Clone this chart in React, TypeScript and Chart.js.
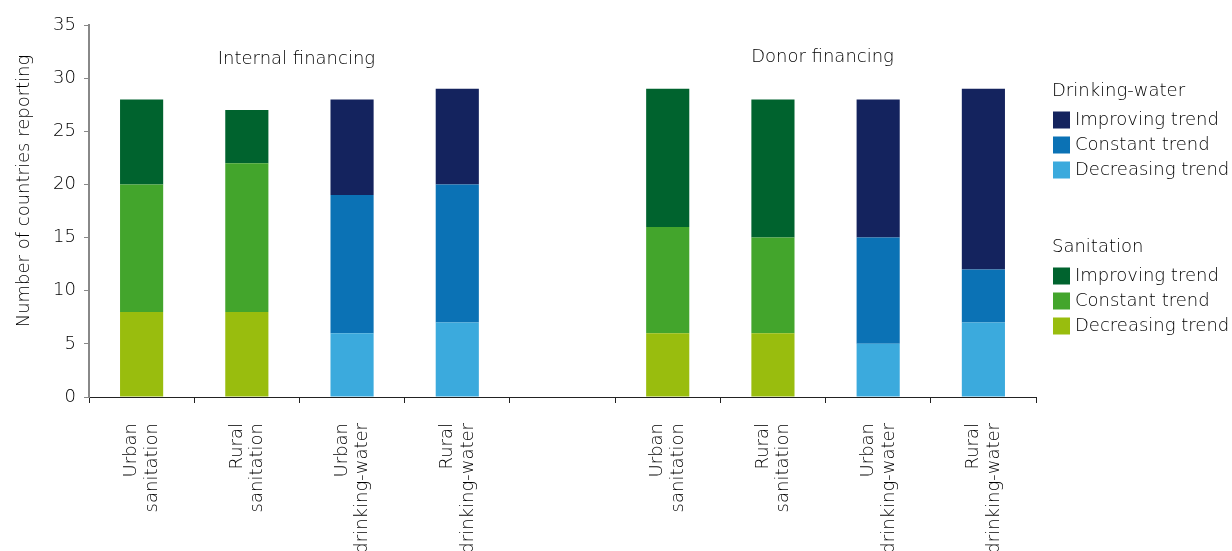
import React, { useEffect, useRef } from "react";
import { Chart, registerables } from "chart.js";

Chart.register(...registerables);

const categories: (string | string[])[] = [
  ["Urban", "sanitation"],
  ["Rural", "sanitation"],
  ["Urban", "drinking-water"],
  ["Rural", "drinking-water"],
  "",
  ["Urban", "sanitation"],
  ["Rural", "sanitation"],
  ["Urban", "drinking-water"],
  ["Rural", "drinking-water"],
];

const sanDecreasing = [8, 8, null, null, null, 6, 6, null, null];
const sanConstant = [12, 14, null, null, null, 10, 9, null, null];
const sanImproving = [8, 5, null, null, null, 13, 13, null, null];
const dwDecreasing = [null, null, 6, 7, null, null, null, 5, 7];
const dwConstant = [null, null, 13, 13, null, null, null, 10, 5];
const dwImproving = [null, null, 9, 9, null, null, null, 13, 17];

const yMin = 0;
const yMax = 35;
const yStep = 5;

const groupLabels = ["Internal financing", "Donor financing"];
const groupCenters = [1.5, 6.5];
const yAxisTitle = "Number of countries reporting";

const colors = {
  sanDecreasing: "#99BD0E",
  sanConstant: "#43A52C",
  sanImproving: "#00632E",
  dwDecreasing: "#3BAADD",
  dwConstant: "#0B72B5",
  dwImproving: "#14235E",
};

const legendGroups = [
  {
    title: "Drinking-water",
    items: [
      ["Improving trend", colors.dwImproving],
      ["Constant trend", colors.dwConstant],
      ["Decreasing trend", colors.dwDecreasing],
    ],
  },
  {
    title: "Sanitation",
    items: [
      ["Improving trend", colors.sanImproving],
      ["Constant trend", colors.sanConstant],
      ["Decreasing trend", colors.sanDecreasing],
    ],
  },
];

const FONT = "'DejaVu Sans', sans-serif";
const WEIGHT = 200;
const TEXT = "#000000";

const annotationsPlugin = {
  id: "customAnnotations",
  afterDraw(chart: any) {
    const { ctx, chartArea, scales } = chart;
    ctx.save();
    ctx.fillStyle = TEXT;
    ctx.font = `${WEIGHT} 18px ${FONT}`;
    ctx.textBaseline = "middle";
    ctx.textAlign = "center";
    groupLabels.forEach((g, i) => {
      const x = scales.x.getPixelForValue(groupCenters[i]) - 3;
      const y = scales.y.getPixelForValue(31.8) - i * 2;
      ctx.fillText(g, x, y);
    });

    // y axis title
    ctx.save();
    ctx.translate(24, chartArea.top + 166);
    ctx.rotate(-Math.PI / 2);
    ctx.textAlign = "center";
    ctx.fillText(yAxisTitle, 0, 0);
    ctx.restore();

    // legend
    const lx = chartArea.right + 16;
    let y = chartArea.top + 66;
    legendGroups.forEach((grp) => {
      ctx.textAlign = "left";
      ctx.fillStyle = TEXT;
      ctx.fillText(grp.title, lx, y);
      y += 29;
      grp.items.forEach(([label, color]) => {
        ctx.fillStyle = color as string;
        ctx.fillRect(lx + 1, y - 8.5, 17, 17);
        ctx.fillStyle = TEXT;
        ctx.fillText(label as string, lx + 23, y);
        y += 25;
      });
      y += 52;
    });
    ctx.restore();
  },
};

export default function App() {
  const ref = useRef<HTMLCanvasElement | null>(null);
  useEffect(() => {
    if (!ref.current) return;
    const mk = (data: (number | null)[], color: string) => ({
      data,
      backgroundColor: color,
      borderWidth: 0,
      stack: "s",
      categoryPercentage: 1,
      barPercentage: 0.41,
    });
    const chart = new Chart(ref.current, {
      type: "bar",
      data: {
        labels: categories as any,
        datasets: [
          mk(sanDecreasing, colors.sanDecreasing),
          mk(sanConstant, colors.sanConstant),
          mk(sanImproving, colors.sanImproving),
          mk(dwDecreasing, colors.dwDecreasing),
          mk(dwConstant, colors.dwConstant),
          mk(dwImproving, colors.dwImproving),
        ] as any,
      },
      options: {
        responsive: false,
        animation: false,
        layout: { padding: { top: 25, right: 196, left: 0, bottom: 0 } },
        plugins: {
          legend: { display: false },
          tooltip: { enabled: false },
          title: { display: false },
        },
        scales: {
          x: {
            stacked: true,
            grid: {
              offset: true,
              drawOnChartArea: false,
              drawTicks: true,
              tickLength: 6,
              color: "#222",
            },
            border: { color: "#222", width: 1 },
            ticks: {
              autoSkip: false,
              maxRotation: 90,
              minRotation: 90,
              padding: 20,
              labelOffset: -10,
              color: TEXT,
              font: { family: FONT, size: 18, weight: WEIGHT, lineHeight: 1.15 },
            },
            afterFit: (s: any) => {
              s.height = 154;
            },
          },
          y: {
            stacked: true,
            min: yMin,
            max: yMax,
            ticks: {
              stepSize: yStep,
              padding: 8,
              color: TEXT,
              font: { family: FONT, size: 18, weight: WEIGHT },
            },
            grid: {
              drawOnChartArea: false,
              drawTicks: true,
              tickLength: 5,
              color: "#888",
            },
            border: { color: "#888", width: 2 },
            afterFit: (s: any) => {
              s.width = 89;
            },
          },
        },
      } as any,
      plugins: [annotationsPlugin],
    });
    return () => chart.destroy();
  }, []);
  return (
    <div style={{ position: "absolute", left: 0, top: 0, width: 1232, height: 551, background: "#fff" }}>
      <canvas ref={ref} width={1232} height={551} style={{ display: "block" }} />
    </div>
  );
}
